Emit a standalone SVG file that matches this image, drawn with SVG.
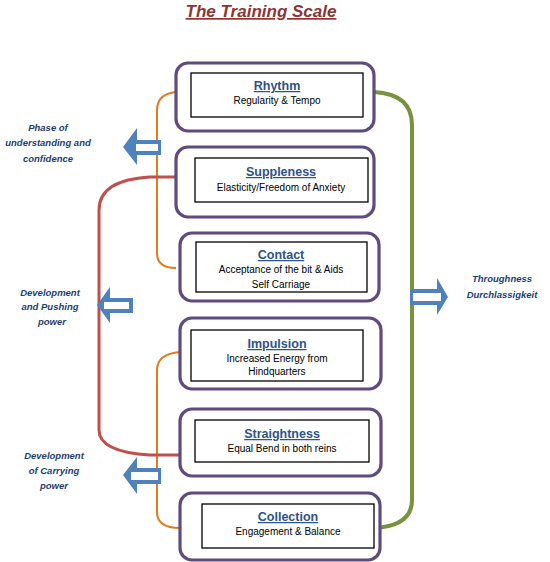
<svg xmlns="http://www.w3.org/2000/svg" width="550" height="562" viewBox="0 0 550 562">
<style>
.outer{fill:#fff;stroke:#5f4b7f;stroke-width:3.2}
.inner{fill:#fff;stroke:#000;stroke-width:1.3}
.ttl{font-family:"Liberation Sans",Arial,sans-serif;font-size:12.5px;font-weight:bold;fill:#2f5389;text-anchor:middle;text-decoration:underline}
.sub{font-family:"Liberation Sans",Arial,sans-serif;font-size:10px;fill:#000;text-anchor:middle}
.lbl{font-family:"Liberation Sans",Arial,sans-serif;font-size:9.5px;font-weight:bold;font-style:italic;fill:#1f3f6f;text-anchor:middle}
.arr{fill:#4f81bd}
.arrin{fill:#fff}
</style>
<rect width="550" height="562" fill="#fff"/>
<text x="261" y="17" font-family="Liberation Sans,Arial,sans-serif" font-size="17" font-weight="bold" font-style="italic" fill="#8b3535" text-anchor="middle" text-decoration="underline">The Training Scale</text>
<g id="connectors" fill="none">
<path d="M176,92 Q157,94 157,110 L157,253 Q157,268 176,268" stroke="#e07b1f" stroke-width="2"/>
<path d="M180,352 Q157,354 157,370 L157,512 Q157,528 180,528" stroke="#e07b1f" stroke-width="2"/>
<path d="M176,177 L150,177 Q99,180 99,210 L99,430 Q99,452 150,455 L180,455" stroke="#c0504d" stroke-width="3"/>
<path d="M374,92 Q412,94 412,125 L412,500 Q412,526 374,528" stroke="#77933c" stroke-width="4"/>
</g>
<g id="arrow-left-1"><polygon class="arr" points="123,147 137,128 137,140 161,140 161,155 137,155 137,165"/><rect class="arrin" x="136" y="144" width="22" height="7"/></g>
<g id="arrow-left-2"><polygon class="arr" points="97,305 110,287 110,298 133,298 133,313 110,313 110,323"/><rect class="arrin" x="104" y="302" width="25" height="7"/></g>
<g id="arrow-left-3"><polygon class="arr" points="123,475 137,457 137,468 161,468 161,484 137,484 137,494"/><rect class="arrin" x="131" y="472" width="27" height="8"/></g>
<g id="arrow-right"><polygon class="arr" points="448,297 437,278 437,289 410,289 410,305 437,305 437,315"/><rect class="arrin" x="413" y="293" width="28" height="8"/></g>
<g id="label-phase"><text class="lbl" x="48" y="131">Phase of</text><text class="lbl" x="48" y="146">understanding and</text><text class="lbl" x="48" y="162">confidence</text></g>
<g id="label-pushing"><text class="lbl" x="50" y="296">Development</text><text class="lbl" x="50" y="310">and Pushing</text><text class="lbl" x="52" y="325">power</text></g>
<g id="label-carrying"><text class="lbl" x="54" y="459">Development</text><text class="lbl" x="54" y="474">of Carrying</text><text class="lbl" x="54" y="489">power</text></g>
<g id="label-throughness"><text class="lbl" x="502" y="282">Throughness</text><text class="lbl" x="502" y="298">Durchlassigkeit</text></g>
<g id="node-rhythm"><rect class="outer" x="176" y="63" width="198" height="68" rx="12"/><rect class="inner" x="191" y="73" width="172" height="44"/><text class="ttl" x="277" y="90">Rhythm</text><text class="sub" x="277" y="104">Regularity &amp; Tempo</text></g>
<g id="node-suppleness"><rect class="outer" x="176" y="147" width="198" height="70" rx="12"/><rect class="inner" x="195" y="158" width="173" height="44"/><text class="ttl" x="281" y="176">Suppleness</text><text class="sub" x="281" y="191">Elasticity/Freedom of Anxiety</text></g>
<g id="node-contact"><rect class="outer" x="180" y="233" width="199" height="68" rx="12"/><rect class="inner" x="196" y="242" width="171" height="50"/><text class="ttl" x="281" y="259">Contact</text><text class="sub" x="281" y="273">Acceptance of the bit &amp; Aids</text><text class="sub" x="281" y="288">Self Carriage</text></g>
<g id="node-impulsion"><rect class="outer" x="180" y="318" width="201" height="71" rx="12"/><rect class="inner" x="191" y="330" width="172" height="51"/><text class="ttl" x="277" y="348">Impulsion</text><text class="sub" x="277" y="362">Increased Energy from</text><text class="sub" x="277" y="375">Hindquarters</text></g>
<g id="node-straightness"><rect class="outer" x="180" y="409" width="201" height="67" rx="12"/><rect class="inner" x="195" y="420" width="174" height="42"/><text class="ttl" x="282" y="438">Straightness</text><text class="sub" x="282" y="452">Equal Bend in both reins</text></g>
<g id="node-collection"><rect class="outer" x="180" y="493" width="200" height="67" rx="12"/><rect class="inner" x="202" y="504" width="172" height="44"/><text class="ttl" x="288" y="521">Collection</text><text class="sub" x="288" y="535">Engagement &amp; Balance</text></g>
</svg>
